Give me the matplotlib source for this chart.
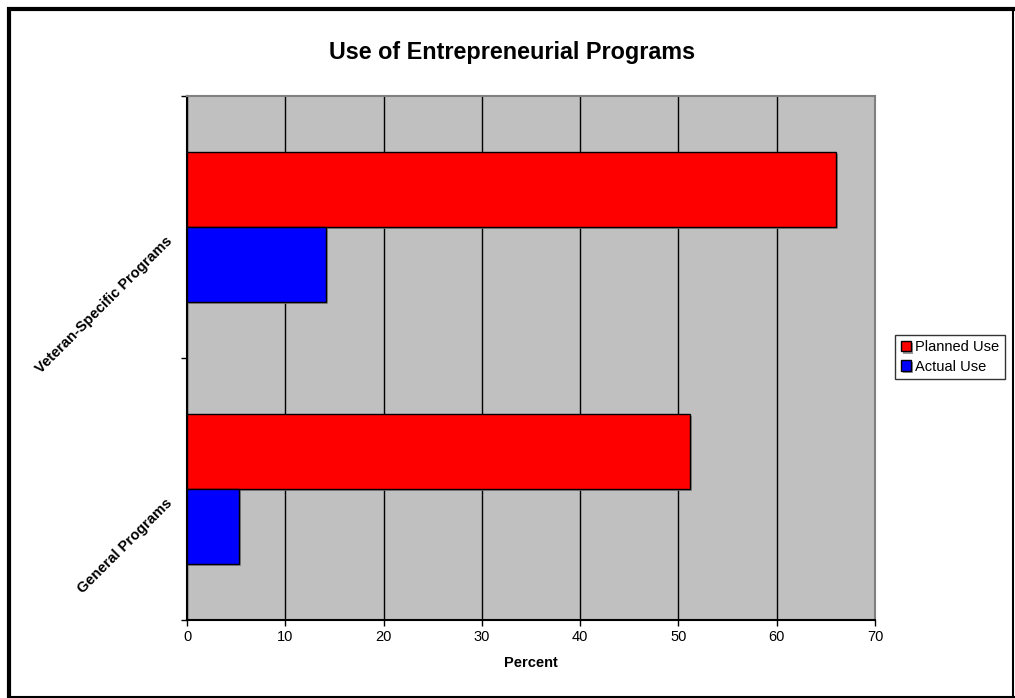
import matplotlib
matplotlib.use('Agg')
import matplotlib.pyplot as plt
import matplotlib.patheffects as pe
from matplotlib.lines import Line2D
from matplotlib.transforms import ScaledTranslation
import numpy as np

categories = ['General Programs', 'Veteran-Specific Programs']
planned_use = [51.2, 66.0]
actual_use = [5.3, 14.1]
x_ticks = [0, 10, 20, 30, 40, 50, 60, 70]

plt.rcParams['font.family'] = ['Liberation Sans', 'DejaVu Sans']


def main():
    fig = plt.figure(figsize=(10.15, 6.98), dpi=100)
    ax = fig.add_axes([187 / 1015, 78 / 698, 688 / 1015, 524 / 698])
    ax.set_facecolor('#C0C0C0')

    centers = np.arange(len(categories)) + 0.5
    bar_h = 0.286
    shadow = [pe.SimplePatchShadow(offset=(1.5, -1.5), shadow_rgbFace='#808080', alpha=0.8), pe.Normal()]

    ax.barh(centers + bar_h / 2, planned_use, height=bar_h, color='#FF0000',
            edgecolor='black', linewidth=1, label='Planned Use', zorder=3, path_effects=shadow)
    ax.barh(centers - bar_h / 2, actual_use, height=bar_h, color='#0000FF',
            edgecolor='black', linewidth=1, label='Actual Use', zorder=3, path_effects=shadow)

    ax.set_xlim(0, 70)
    ax.set_ylim(0, len(categories))
    ax.set_xticks(x_ticks)
    ax.set_xticklabels([str(t) for t in x_ticks], fontsize=10.5)
    ax.xaxis.grid(True, color='black', linewidth=1, zorder=1)
    ax.set_axisbelow(True)

    # category boundaries carry the tick marks, labels sit between them
    ax.set_yticks(np.arange(len(categories) + 1))
    ax.set_yticklabels([])
    ax.set_yticks(centers, minor=True)
    ax.set_yticklabels(categories, minor=True, rotation=45, fontsize=10.5,
                       fontweight='bold', ha='right', va='center', rotation_mode='anchor')
    ax.tick_params(axis='y', which='minor', length=0, pad=12)
    ax.tick_params(axis='x', which='major', pad=3)
    ax.tick_params(axis='both', which='major', direction='out', length=4, width=1, color='black')
    shift = ScaledTranslation(0, -12 / 100, fig.dpi_scale_trans)
    for lbl in ax.get_yticklabels(minor=True):
        lbl.set_transform(lbl.get_transform() + shift)

    ax.spines['left'].set_color('black')
    ax.spines['bottom'].set_color('black')
    ax.spines['top'].set_color('#808080')
    ax.spines['right'].set_color('#808080')
    for s in ax.spines.values():
        s.set_linewidth(1.5)

    ax.set_xlabel('Percent', fontsize=10.5, fontweight='bold', labelpad=9)
    fig.text(512 / 1015, 1 - 52 / 698, 'Use of Entrepreneurial Programs', ha='center',
             va='center', fontsize=16.8, fontweight='bold')

    ax.legend(loc='center left', bbox_to_anchor=(895 / 1015, 1 - 357 / 698),
              bbox_transform=fig.transFigure, fontsize=10.5, frameon=True, fancybox=False,
              edgecolor='black', handlelength=0.7, handleheight=0.7, handletextpad=0.3,
              borderpad=0.4, labelspacing=0.35, borderaxespad=0)

    # outer chart frame: heavy on the left and top, thin on the right and bottom
    W, H = 1015, 698
    frame = dict(transform=fig.transFigure, color='black', solid_capstyle='butt')
    fig.lines.append(Line2D([8.5 / W, 8.5 / W], [0, 1 - 6.5 / H], linewidth=3, **frame))
    fig.lines.append(Line2D([6.5 / W, 1], [1 - 8.5 / H, 1 - 8.5 / H], linewidth=3, **frame))
    fig.lines.append(Line2D([1012.5 / W, 1012.5 / W], [0, 1 - 8 / H], linewidth=1.5, **frame))
    fig.lines.append(Line2D([8 / W, 1], [1.5 / H, 1.5 / H], linewidth=1.5, **frame))

    fig.savefig('out.png', dpi=100)


if __name__ == "__main__":
    main()
